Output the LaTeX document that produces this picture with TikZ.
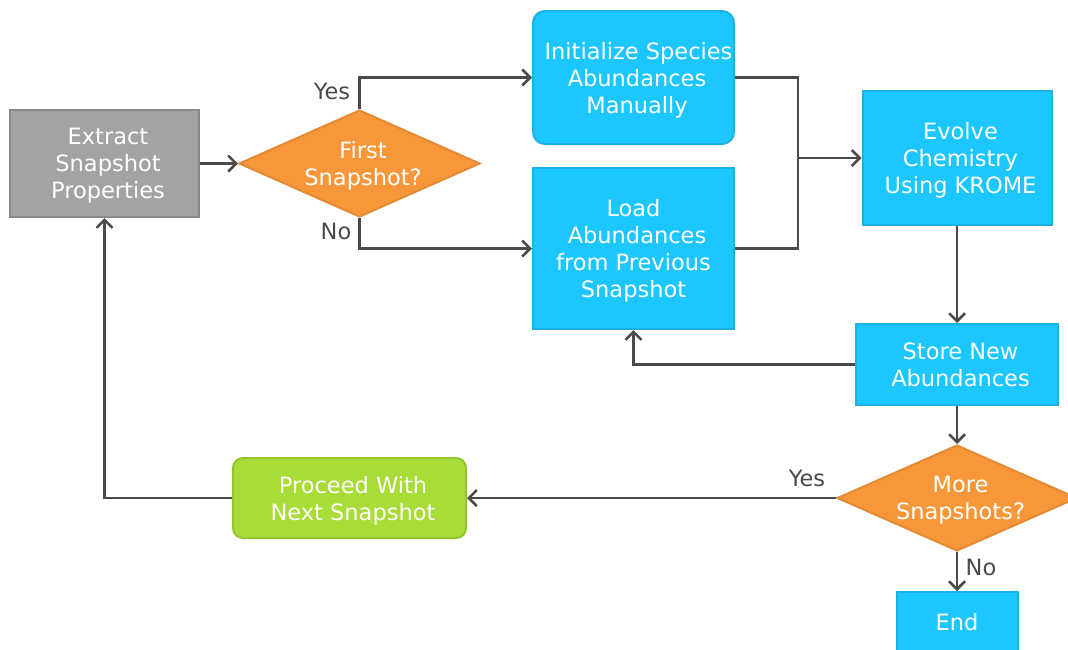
\documentclass[tikz,border=0pt]{standalone}
\usepackage{fontspec}
\setmainfont{DejaVu Sans}
\usetikzlibrary{shapes.geometric,arrows.meta}
\definecolor{cyanfill}{HTML}{1CC7FF}
\definecolor{cyanline}{HTML}{1AB2E6}
\definecolor{orangefill}{HTML}{F7973A}
\definecolor{orangeline}{HTML}{E38A33}
\definecolor{greenfill}{HTML}{A8DD38}
\definecolor{greenline}{HTML}{92C530}
\definecolor{grayfill}{HTML}{A3A3A3}
\definecolor{grayline}{HTML}{8A8A8A}
\definecolor{linec}{HTML}{4A4A4A}
\newcommand{\lsp}{\hspace*{7pt}}
\tikzset{
  base/.style={inner sep=0pt, align=center, text=white, line width=2pt,
    text depth=0pt, font=\fontsize{22.5}{27}\selectfont},
  cyanbox/.style={base, rectangle, fill=cyanfill, draw=cyanline},
  grbox/.style={base, rectangle, fill=grayfill, draw=grayline},
  greenbox/.style={base, rectangle, rounded corners=10pt, fill=greenfill, draw=greenline},
  decision/.style={base, diamond, aspect=2.25, fill=orangefill, draw=orangeline},
  conn/.style={draw=linec, line width=2.5pt},
  arr/.style={conn, -{Straight Barb[length=8pt,width=16pt,line width=2.5pt]}},
  lbl/.style={text=linec, inner sep=0pt, font=\fontsize{22.5}{27}\selectfont}
}
\begin{document}
\begin{tikzpicture}[x=1pt,y=-1pt]
\useasboundingbox (0,0) rectangle (1068,649);
\clip (0,0) rectangle (1068,649);

\node[grbox, minimum width=189pt, minimum height=107pt] (extract) at (104.5,163.5) {\lsp Extract\\\lsp Snapshot\\\lsp Properties};
\node[decision, minimum width=241pt, minimum height=107pt] (first) at (359.5,163.5) {\lsp First\\\lsp Snapshot?};
\node[cyanbox, rounded corners=12pt, minimum width=201pt, minimum height=133pt] (init) at (633.5,77.5) {\hspace*{10pt}Initialize Species\\\lsp Abundances\\\lsp Manually};
\node[cyanbox, minimum width=201pt, minimum height=161pt] (load) at (633.5,248.5) {Load\\\lsp Abundances\\from Previous\\Snapshot};
\node[cyanbox, minimum width=189pt, minimum height=134pt] (evolve) at (957,158) {\lsp Evolve\\\lsp Chemistry\\\lsp Using KROME};
\node[cyanbox, minimum width=202pt, minimum height=81pt] (store) at (957,364.5) {\lsp Store New\\\lsp Abundances};
\node[decision, minimum width=240pt, minimum height=106pt] (more) at (957,498) {\lsp More\\\lsp Snapshots?};
\node[cyanbox, minimum width=121pt, minimum height=60pt] (endn) at (957,622) {End};
\node[greenbox, minimum width=233pt, minimum height=80pt] (proceed) at (349.5,498) {\lsp Proceed With\\\lsp Next Snapshot};

\coordinate (merge) at (798,158);

\draw[arr] (extract.east) -- (first.west);
\draw[arr] (first.north) |- (init.west);
\draw[arr] (first.south) |- (load.west);
\draw[conn] (init.east) -| (merge);
\draw[conn] (load.east) -| (merge);
\draw[arr] (merge) -- (evolve.west);
\draw[arr] (evolve.south) -- (store.north);
\draw[arr] (store.west) -| (load.south);
\draw[arr] (store.south) -- (more.north);
\draw[arr] (more.west) -- (proceed.east);
\draw[arr] (more.south) -- (endn.north);
\draw[arr] (proceed.west) -| (extract.south);

\node[lbl] (l1) at (332,91) {Yes};
\node[lbl] (l2) at (336,231) {No};
\node[lbl] (l3) at (807,478) {Yes};
\node[lbl] (l4) at (981,567) {No};
\end{tikzpicture}
\end{document}
